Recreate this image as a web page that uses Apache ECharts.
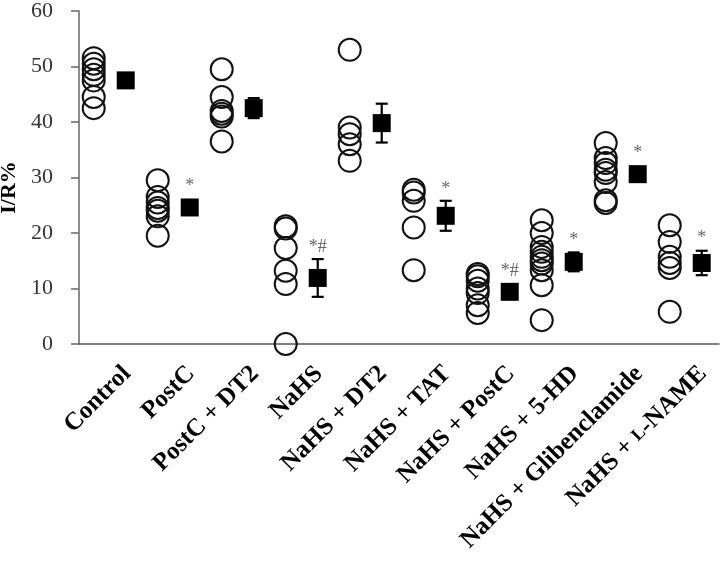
<!DOCTYPE html>
<html lang="en">
<head>
    <meta charset="UTF-8">
    <script src="https://cdn.jsdelivr.net/npm/echarts@6/dist/echarts.min.js"></script>
    <title>I/R%</title>
</head>
<body style="margin:0;background:#fff;">
<div id="chart" style="width:720px;height:562px;"></div>
<script>
    // groups on the x axis
    var categories = ['Control', 'PostC', 'PostC + DT2', 'NaHS', 'NaHS + DT2', 'NaHS + TAT',
        'NaHS + PostC', 'NaHS + 5-HD', 'NaHS + Glibenclamide', 'NaHS + L-NAME'];
    // individual animals (open circles)
    var individual = [
        [51.5, 50.5, 49.5, 48.5, 47.5, 44.5, 42.5],
        [29.5, 26.5, 25.5, 24.5, 24, 23, 19.5],
        [49.5, 44.5, 42, 41.5, 41, 36.5],
        [21.2, 20.8, 17.3, 13.2, 10.8, 0],
        [53, 39, 37.8, 36, 33],
        [27.8, 27.3, 25.8, 21, 13.3],
        [12.6, 12.2, 11.4, 10, 9.2, 7, 5.6],
        [22.3, 20, 17.5, 16.6, 15.7, 15.1, 14.5, 13.3, 10.6, 4.3],
        [36.2, 33.5, 32.6, 31.4, 30.8, 29.2, 25.9, 25.4],
        [21.4, 18.4, 15.7, 14.6, 13.7, 5.8]
    ];
    // group mean and SEM (filled squares)
    var means = [47.5, 24.6, 42.5, 11.9, 39.8, 23.1, 9.4, 14.8, 30.6, 14.6];
    var sems = [1.2, 1.1, 1.8, 3.4, 3.5, 2.7, 0.9, 1.7, 1.3, 2.2];
    // significance marks
    var marks = ['', '*', '', '*#', '', '*', '*#', '*', '*', '*'];
    var yTicks = [0, 10, 20, 30, 40, 50, 60];

    var serif = '"Liberation Serif", "Times New Roman", serif';
    var circleOffset = 0.23, squareOffset = 0.73;
    var n = categories.length;

    var circleData = [];
    individual.forEach(function (vals, i) {
        vals.forEach(function (v) { circleData.push([i + circleOffset, v]); });
    });
    var squareData = means.map(function (m, i) { return [i + squareOffset, m]; });
    var errData = means.map(function (m, i) { return [i + squareOffset, m, sems[i], i]; });
    // half-width slots so that each label sits under its square (odd slots carry names)
    var labelSlots = [];
    for (var k = 0; k < 2 * n; k++) labelSlots.push(String(k));

    var chart = echarts.init(document.getElementById('chart'));
    chart.setOption({
        animation: false,
        backgroundColor: '#fff',
        grid: { left: 79, right: 1, top: 11, bottom: 218, outerBoundsMode: 'none' },
        xAxis: [{
            type: 'value',
            min: 0, max: n, interval: 1,
            axisLine: { show: true, onZero: false, lineStyle: { color: '#555', width: 1.5 } },
            axisTick: { show: false },
            splitLine: { show: false },
            axisLabel: { show: false }
        }, {
            type: 'category',
            position: 'bottom',
            data: labelSlots,
            axisLine: { show: false },
            axisTick: { show: false },
            splitLine: { show: false },
            axisLabel: {
                interval: 0,
                rotate: 45,
                margin: 26,
                fontFamily: serif, fontWeight: 'bold', fontSize: 25, color: '#000',
                formatter: function (value, index) {
                    if (index % 2 === 0) return '';
                    return categories[(index - 1) / 2].replace('L-NAME', '{sc|L}-NAME');
                },
                rich: {
                    sc: { fontFamily: serif, fontWeight: 'bold', fontSize: 18, color: '#000' }
                }
            }
        }],
        yAxis: {
            type: 'value',
            min: yTicks[0], max: yTicks[yTicks.length - 1], interval: 10,
            name: 'I/R%',
            nameLocation: 'middle',
            nameGap: 57,
            nameTextStyle: { fontFamily: serif, fontWeight: 'bold', fontSize: 22, color: '#000', padding: [0, 20, 0, 0] },
            axisLine: { show: true, lineStyle: { color: '#666', width: 1.5 } },
            axisTick: { show: true, inside: false, length: 8, lineStyle: { color: '#666', width: 1.5 } },
            splitLine: { show: false },
            axisLabel: { margin: 26, fontFamily: serif, fontSize: 22, color: '#333' }
        },
        series: [
            {
                name: 'individual',
                type: 'scatter',
                clip: false,
                symbol: 'circle',
                symbolSize: 22,
                data: circleData,
                itemStyle: { color: 'rgba(0,0,0,0)', borderColor: '#111', borderWidth: 2, opacity: 1 },
                emphasis: { disabled: true }
            },
            {
                name: 'sem',
                type: 'custom',
                clip: false,
                data: errData,
                renderItem: function (params, api) {
                    var x = api.value(0), m = api.value(1), s = api.value(2), idx = api.value(3);
                    var hi = api.coord([x, m + s]);
                    var lo = api.coord([x, m - s]);
                    var cap = 6;
                    var style = { stroke: '#000', lineWidth: 2.2 };
                    var topY = Math.min(hi[1], api.coord([x, m])[1] - 9);
                    return {
                        type: 'group',
                        children: [
                            { type: 'line', shape: { x1: hi[0], y1: hi[1], x2: lo[0], y2: lo[1] }, style: style },
                            { type: 'line', shape: { x1: hi[0] - cap, y1: hi[1], x2: hi[0] + cap, y2: hi[1] }, style: style },
                            { type: 'line', shape: { x1: lo[0] - cap, y1: lo[1], x2: lo[0] + cap, y2: lo[1] }, style: style },
                            {
                                type: 'text',
                                style: {
                                    text: marks[idx], x: hi[0], y: topY - 3,
                                    align: 'center', verticalAlign: 'bottom',
                                    font: '18px ' + serif, fill: '#666'
                                }
                            }
                        ]
                    };
                }
            },
            {
                name: 'mean',
                type: 'scatter',
                clip: false,
                symbol: 'rect',
                symbolSize: 18,
                data: squareData,
                itemStyle: { color: '#000', opacity: 1 },
                emphasis: { disabled: true }
            }
        ]
    });
</script>
</body>
</html>
